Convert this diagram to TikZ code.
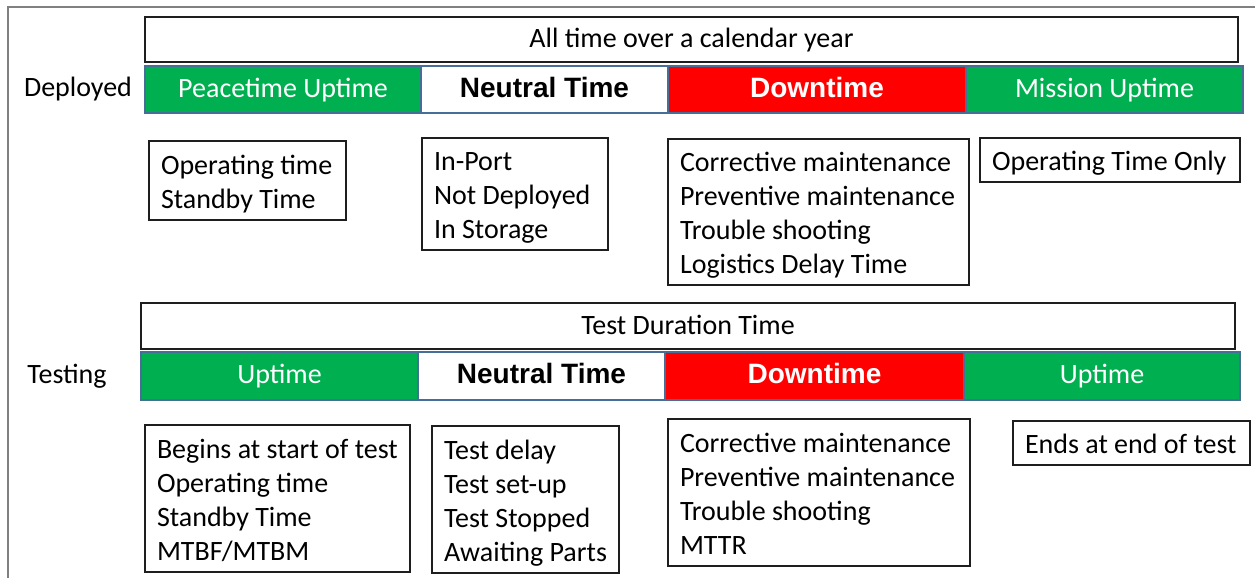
\documentclass[tikz,border=0pt]{standalone}
\usepackage{fontspec}
\setmainfont{Carlito}
\newfontfamily\arialfont{Liberation Sans}
% one pixel of the layout grid
\newlength\pxlen
\setlength\pxlen{0.75pt}
\definecolor{upgreen}{RGB}{0,176,80}
\definecolor{downred}{RGB}{255,0,0}
\definecolor{segline}{RGB}{70,110,150}
\definecolor{framegray}{RGB}{128,128,128}
\definecolor{boxline}{RGB}{30,30,30}
% left-aligned list of lines, padded to a fixed width (taller first row sets the text a bit lower)
\newcommand\linelist[2]{\makebox[#1\pxlen][l]{\begin{tabular}{@{}l@{}}\rule{0pt}{23.4pt}#2\end{tabular}}}
\tikzset{
  base/.style={font=\fontsize{21pt}{25.5pt}\selectfont},
  seg/.style={base, draw=segline, line width=0.9pt, inner sep=0pt,
    text height=14.7pt, text depth=3.4pt},
  upseg/.style={seg, fill=upgreen, text=white},
  neutralseg/.style={seg, fill=white, text=black,
    font=\arialfont\bfseries\fontsize{21pt}{25.5pt}\selectfont},
  downseg/.style={seg, fill=downred, text=white,
    font=\arialfont\bfseries\fontsize{21pt}{25.5pt}\selectfont},
  spanbox/.style={base, draw=boxline, line width=1.1pt, inner sep=0pt,
    text height=14.7pt, text depth=2.2pt},
  listbox/.style={base, draw=boxline, line width=1.1pt, inner sep=0pt},
  rowlabel/.style={base, inner sep=0pt, text height=14.7pt, text depth=3.4pt}
}
\begin{document}
\begin{tikzpicture}[x=\pxlen, y=-\pxlen]
\useasboundingbox (0,0) rectangle (1255,578);
% outer frame (top and left edges)
\draw[framegray, line width=1.1pt] (1255,7) -- (8,7) -- (8,578);

% ---- Deployed ----
\node[rowlabel] (deployed) at (78,89) {Deployed};
\node[spanbox, minimum width=1093\pxlen, minimum height=45\pxlen] (allyear) at (691.5,39.5) {All time over a calendar year};
\node[upseg, minimum width=276\pxlen, minimum height=47\pxlen] (peace) at (283,89.5) {Peacetime Uptime};
\node[neutralseg, minimum width=247\pxlen, minimum height=47\pxlen] (neutralA) at (544.5,89.5) {Neutral Time};
\node[downseg, minimum width=298\pxlen, minimum height=47\pxlen] (downA) at (817,89.5) {Downtime};
\node[upseg, minimum width=277\pxlen, minimum height=47\pxlen] (mission) at (1104.5,89.5) {Mission Uptime};

\node[listbox, minimum width=197\pxlen, minimum height=79\pxlen] (dlist1) at (247.5,180.5)
  {\linelist{173}{Operating time\\Standby Time}};
\node[listbox, minimum width=186\pxlen, minimum height=112\pxlen] (dlist2) at (515,194)
  {\linelist{162}{In-Port\\Not Deployed\\In Storage}};
\node[listbox, minimum width=301\pxlen, minimum height=146\pxlen] (dlist3) at (818.5,212)
  {\linelist{277}{Corrective maintenance\\Preventive maintenance\\Trouble shooting\\Logistics Delay Time}};
\node[listbox, minimum width=260\pxlen, minimum height=44\pxlen] (dlist4) at (1110,160)
  {\linelist{236}{Operating Time Only}};

% ---- Testing ----
\node[rowlabel] (testing) at (67,376) {Testing};
\node[spanbox, minimum width=1094\pxlen, minimum height=46\pxlen] (testdur) at (688,326) {Test Duration Time};
\node[upseg, minimum width=277\pxlen, minimum height=48\pxlen] (upB1) at (279.5,376) {Uptime};
\node[neutralseg, minimum width=247\pxlen, minimum height=48\pxlen] (neutralB) at (541.5,376) {Neutral Time};
\node[downseg, minimum width=299\pxlen, minimum height=48\pxlen] (downB) at (814.5,376) {Downtime};
\node[upseg, minimum width=276\pxlen, minimum height=48\pxlen] (upB2) at (1102,376) {Uptime};

\node[listbox, minimum width=265\pxlen, minimum height=147\pxlen] (tlist1) at (277.5,498.5)
  {\linelist{241}{Begins at start of test\\Operating time\\Standby Time\\MTBF/MTBM}};
\node[listbox, minimum width=187\pxlen, minimum height=147\pxlen] (tlist2) at (525.5,499.5)
  {\linelist{163}{Test delay\\Test set-up\\Test Stopped\\Awaiting Parts}};
\node[listbox, minimum width=302\pxlen, minimum height=147\pxlen] (tlist3) at (819,492.5)
  {\linelist{278}{Corrective maintenance\\Preventive maintenance\\Trouble shooting\\MTTR}};
\node[listbox, minimum width=237\pxlen, minimum height=44\pxlen] (tlist4) at (1131.5,443)
  {\linelist{213}{Ends at end of test}};
\end{tikzpicture}
\end{document}
